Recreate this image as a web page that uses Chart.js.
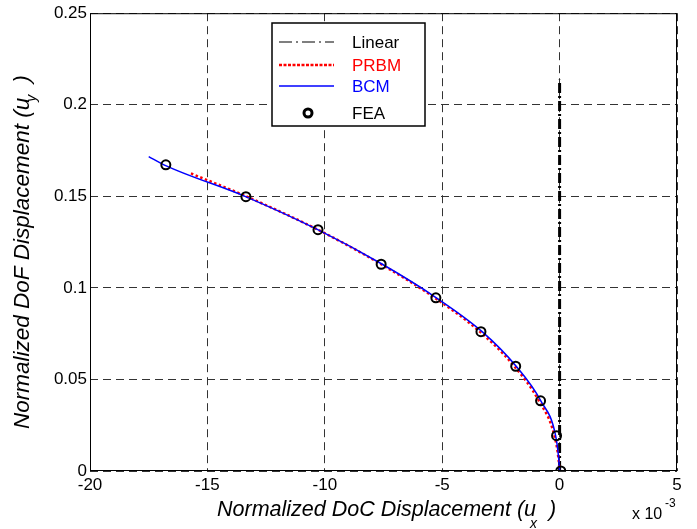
<!DOCTYPE html>
<html>
<head>
<meta charset="utf-8">
<script src="https://cdn.jsdelivr.net/npm/chart.js@4"></script>
<style>
  html, body { margin: 0; padding: 0; background: #fff; }
  canvas { display: block; }
</style>
</head>
<body>
<canvas id="chart" width="697" height="529"></canvas>
<script>
// valores (eje x en unidades de 1e-3)
const xTickLabels = ['-20', '-15', '-10', '-5', '0', '5'];
const yTickLabels = ['0', '0.05', '0.1', '0.15', '0.2', '0.25'];

const linearX = [0, 0];
const linearY = [0, 0.2136];

const prbmX = [-15.7, -13.35, -10.3, -7.6, -5.32, -3.4, -1.93, -0.88, -0.22, -0.04, 0];
const prbmY = [0.1625, 0.150, 0.1318, 0.1129, 0.0946, 0.0761, 0.0572, 0.0383, 0.0193, 0.006, 0];

const bcmX = [-17.5, -16.85, -13.4, -10.3, -7.55, -5.25, -3.3, -1.85, -0.8, -0.17, -0.04, 0];
const bcmY = [0.1717, 0.1672, 0.150, 0.1318, 0.1129, 0.0946, 0.0761, 0.0572, 0.0383, 0.0193, 0.007, 0];

const feaX = [-16.77, -13.36, -10.29, -7.60, -5.27, -3.35, -1.87, -0.81, -0.13, 0.05];
const feaY = [0.1672, 0.1498, 0.1318, 0.1129, 0.0946, 0.0761, 0.0572, 0.0383, 0.0193, 0];

const toPoints = (xs, ys) => xs.map((x, i) => ({ x: x, y: ys[i] }));

const FONT = '"Liberation Sans", Arial, sans-serif';

// leyenda, marco y títulos dibujados a mano (estilo MATLAB)
const extras = {
    id: 'extras',
    beforeDraw(chart) {
        const ctx = chart.ctx;
        ctx.save();
        ctx.fillStyle = '#fff';
        ctx.fillRect(0, 0, chart.width, chart.height);
        ctx.restore();
    },
    afterDatasetsDraw(chart) {
        const ctx = chart.ctx;
        const a = chart.chartArea;
        ctx.save();
        // marco
        ctx.strokeStyle = '#000';
        ctx.lineWidth = 1;
        ctx.setLineDash([]);
        ctx.strokeRect(a.left + 0.5, a.top + 0.5, a.right - a.left - 1, a.bottom - a.top - 1);

        // leyenda
        const bx = 272, by = 23, bw = 153, bh = 103;
        ctx.fillStyle = '#fff';
        ctx.fillRect(bx, by, bw, bh);
        ctx.lineWidth = 1.5;
        ctx.strokeRect(bx, by, bw, bh);

        const entries = [
            { label: 'Linear', color: '#000', y: 42, dash: [13, 4, 2, 4], width: 1.2 },
            { label: 'PRBM', color: '#ff0000', y: 65, dash: [3, 1.5], width: 2.5 },
            { label: 'BCM', color: '#0000ff', y: 86, dash: [], width: 1.5 },
            { label: 'FEA', color: '#000', y: 113, marker: true }
        ];
        ctx.font = '17px ' + FONT;
        ctx.textBaseline = 'alphabetic';
        ctx.textAlign = 'left';
        entries.forEach(e => {
            if (e.marker) {
                ctx.setLineDash([]);
                ctx.lineWidth = 3;
                ctx.strokeStyle = '#000';
                ctx.beginPath();
                ctx.arc(308, e.y, 4, 0, Math.PI * 2);
                ctx.stroke();
            } else {
                ctx.setLineDash(e.dash);
                ctx.lineWidth = e.width;
                ctx.strokeStyle = e.color;
                ctx.beginPath();
                ctx.moveTo(279, e.y);
                ctx.lineTo(334, e.y);
                ctx.stroke();
            }
            ctx.fillStyle = e.color;
            ctx.fillText(e.label, 352, e.y + 6);
        });
        ctx.restore();
    },
    afterDraw(chart) {
        const ctx = chart.ctx;
        ctx.save();
        ctx.fillStyle = '#000';
        ctx.textAlign = 'left';
        ctx.textBaseline = 'alphabetic';

        // título eje x
        const sub = 'italic 14px ' + FONT;
        const mainX = 'italic 21.5px ' + FONT;
        ctx.font = mainX;
        const tx = 'Normalized DoC Displacement (u';
        ctx.fillText(tx, 217, 516);
        let w = ctx.measureText(tx).width;
        ctx.font = sub;
        ctx.fillText('x', 217 + w - 6, 528);
        ctx.font = mainX;
        ctx.fillText(')', 217 + w + 13, 516);

        // título eje y
        const mainY = 'italic 22.5px ' + FONT;
        ctx.save();
        ctx.translate(29, 429);
        ctx.rotate(-Math.PI / 2);
        ctx.font = mainY;
        const ty = 'Normalized DoF Displacement (u';
        ctx.fillText(ty, 0, 0);
        w = ctx.measureText(ty).width;
        ctx.font = sub;
        ctx.fillText('y', w - 4, 7);
        ctx.font = mainY;
        ctx.fillText(')', w + 15, 0);
        ctx.restore();

        // multiplicador
        ctx.font = '16px ' + FONT;
        ctx.fillText('x 10', 632, 519);
        ctx.font = '12px ' + FONT;
        ctx.fillText('-3', 665, 507);
        ctx.restore();
    }
};

new Chart(document.getElementById('chart'), {
    type: 'scatter',
    data: {
        datasets: [
            {
                label: 'Linear',
                data: toPoints(linearX, linearY),
                showLine: true,
                borderColor: '#000',
                borderWidth: 3,
                borderDash: [10, 3, 2, 3],
                pointRadius: 0,
                order: 3
            },
            {
                label: 'PRBM',
                data: toPoints(prbmX, prbmY),
                showLine: true,
                borderColor: '#ff0000',
                borderWidth: 2.5,
                borderDash: [2.5, 2.5],
                pointRadius: 0,
                cubicInterpolationMode: 'monotone',
                order: 2
            },
            {
                label: 'BCM',
                data: toPoints(bcmX, bcmY),
                showLine: true,
                borderColor: '#0000ff',
                borderWidth: 1.5,
                pointRadius: 0,
                cubicInterpolationMode: 'monotone',
                order: 1
            },
            {
                label: 'FEA',
                data: toPoints(feaX, feaY),
                showLine: false,
                pointRadius: 4.5,
                pointBorderWidth: 2,
                pointBorderColor: '#000',
                pointBackgroundColor: 'rgba(0,0,0,0)',
                order: 0
            }
        ]
    },
    options: {
        responsive: false,
        animation: false,
        layout: { padding: { top: 7, right: 20, left: 0, bottom: 0 } },
        plugins: {
            legend: { display: false },
            tooltip: { enabled: false }
        },
        scales: {
            x: {
                type: 'linear',
                min: -20,
                max: 5,
                afterFit(s) { s.height = 58; },
                ticks: {
                    stepSize: 5,
                    padding: 4,
                    color: '#000',
                    font: { family: FONT, size: 17 },
                    maxRotation: 0,
                    callback: v => xTickLabels[Math.round((v + 20) / 5)]
                },
                grid: { color: '#333', lineWidth: 1, drawTicks: false },
                border: { display: false, dash: [8, 5] }
            },
            y: {
                type: 'linear',
                min: 0,
                max: 0.25,
                afterFit(s) { s.width = 90; },
                ticks: {
                    stepSize: 0.05,
                    padding: 3,
                    color: '#000',
                    font: { family: FONT, size: 17 },
                    callback: v => yTickLabels[Math.round(v / 0.05)]
                },
                grid: { color: '#333', lineWidth: 1, drawTicks: false },
                border: { display: false, dash: [8, 5] }
            }
        }
    },
    plugins: [extras]
});
</script>
</body>
</html>
